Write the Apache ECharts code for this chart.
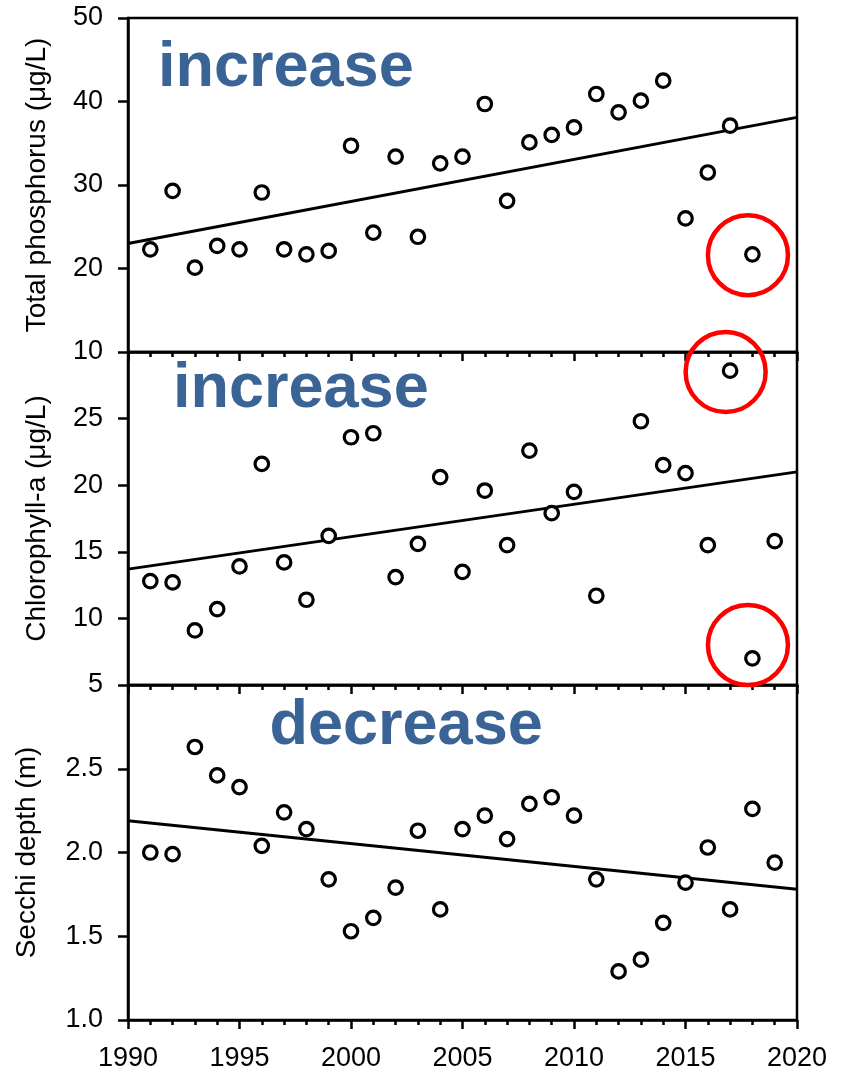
<!DOCTYPE html>
<html>
<head>
<meta charset="utf-8">
<script src="https://cdn.jsdelivr.net/npm/echarts@6/dist/echarts.min.js"></script>
<style>
html,body{margin:0;padding:0;background:#fff;}
#chart{width:842px;height:1073px;}
</style>
</head>
<body>
<div id="chart"></div>
<script>
// ---- data ----
const years = [1991,1992,1993,1994,1995,1996,1997,1998,1999,2000,2001,2002,2003,2004,2005,2006,2007,2008,2009,2010,2011,2012,2013,2014,2015,2016,2017,2018,2019];
const totalPhosphorus = [22.3,29.3,20.1,22.7,22.3,29.1,22.3,21.7,22.1,34.7,24.3,33.4,23.8,32.6,33.4,39.7,28.1,35.1,36.0,36.9,40.9,38.7,40.1,42.5,26.0,31.5,37.1,21.7,null];
const chlorophyll = [12.8,12.7,9.1,10.7,13.9,21.6,14.2,11.4,16.2,23.6,23.9,13.1,15.6,20.6,13.5,19.6,15.5,22.6,17.9,19.5,11.7,null,24.8,21.5,20.9,15.5,28.6,7.0,15.8];
const secchi = [2.00,1.99,2.63,2.46,2.39,2.04,2.24,2.14,1.84,1.53,1.61,1.79,2.13,1.66,2.14,2.22,2.08,2.29,2.33,2.22,1.84,1.29,1.36,1.58,1.82,2.03,1.66,2.26,1.94];
const trendYears = [1990, 2020];
const tpTrend = [23.0, 38.1];
const chlTrend = [13.7, 21.0];
const sdTrend = [2.19, 1.78];
const tpHighlightX = [2017.8];
const tpHighlightY = [21.6];
const chlHighlightX = [2016.8, 2017.8];
const chlHighlightY = [28.5, 8.0];
const panelNames = ['Total phosphorus (μg/L)', 'Chlorophyll-a (μg/L)', 'Secchi depth (m)'];
const trendWords = ['increase', 'increase', 'decrease'];
const xTicks = {min: 1990, max: 2020, interval: 5};

// ---- helpers ----
const FONT = '"Liberation Sans", Arial, sans-serif';
const pairs = (xs, ys) => xs.map((x, i) => [x, ys[i]]).filter(p => p[1] !== null);

const grids = [
  {left: 128, right: 45, top: 18, height: 334},
  {left: 128, right: 45, top: 352, height: 333},
  {left: 128, right: 45, top: 685, height: 335}
].map(g => Object.assign(g, {show: true, borderColor: '#000', borderWidth: 2.5, backgroundColor: 'transparent'}));

function xAxis(idx, showLabels) {
  return {
    type: 'value', gridIndex: idx, min: xTicks.min, max: xTicks.max, interval: xTicks.interval,
    axisLine: {show: true, onZero: false, lineStyle: {color: '#000', width: 2.5}},
    axisTick: {show: true, inside: false, length: 9, lineStyle: {color: '#000', width: 2.5}},
    minorTick: {show: true, splitNumber: 5, length: 5, lineStyle: {color: '#000', width: 2.5}},
    splitLine: {show: false}, minorSplitLine: {show: false},
    axisLabel: {show: showLabels, color: '#000', fontSize: 27, fontFamily: FONT, margin: 25,
      formatter: v => String(v)}
  };
}
function yAxis(idx, min, max, interval, showMax, gap, fmt) {
  return {
    type: 'value', gridIndex: idx, min: min, max: max, interval: interval,
    name: panelNames[idx], nameLocation: 'middle', nameGap: gap, nameRotate: 90,
    nameTextStyle: {color: '#000', fontSize: 28, fontFamily: FONT},
    axisLine: {show: true, onZero: false, lineStyle: {color: '#000', width: 2.5}},
    axisTick: {show: true, inside: false, length: 10, lineStyle: {color: '#000', width: 2.5}},
    splitLine: {show: false},
    axisLabel: {show: true, color: '#000', fontSize: 27, fontFamily: FONT, margin: 25,
      showMaxLabel: showMax, showMinLabel: true, formatter: fmt || (v => String(v))}
  };
}
function points(idx, data) {
  return {type: 'scatter', xAxisIndex: idx, yAxisIndex: idx, data: data, symbol: 'circle', symbolSize: 13.5,
    itemStyle: {color: '#fff', borderColor: '#000', borderWidth: 3.2, opacity: 1}, z: 5, silent: true};
}
function trend(idx, ys) {
  return {type: 'line', xAxisIndex: idx, yAxisIndex: idx, data: pairs(trendYears, ys), showSymbol: false,
    symbol: 'none', lineStyle: {color: '#000', width: 3}, z: 3, silent: true};
}
function highlight(idx, xs, ys) {
  return {type: 'scatter', xAxisIndex: idx, yAxisIndex: idx, data: pairs(xs, ys), symbol: 'circle', symbolSize: 80,
    clip: false, itemStyle: {color: 'transparent', borderColor: '#ff0000', borderWidth: 4.5, opacity: 1}, z: 10, silent: true};
}

const wordPos = [[158, 69], [173, 390], [269.5, 727]];
const graphic = trendWords.map((w, i) => ({
  type: 'text', x: wordPos[i][0], y: wordPos[i][1], z: 20,
  style: {text: w, font: 'bold 63px ' + FONT, fill: '#3b6496', textAlign: 'left', textVerticalAlign: 'middle'}
}));

const option = {
  animation: false,
  backgroundColor: '#fff',
  grid: grids,
  xAxis: [xAxis(0, false), xAxis(1, false), xAxis(2, true)],
  yAxis: [
    yAxis(0, 10, 50, 10, true, 77),
    yAxis(1, 5, 30, 5, false, 77),
    yAxis(2, 1, 3, 0.5, false, 87, v => v.toFixed(1))
  ],
  graphic: graphic,
  series: [
    trend(0, tpTrend), points(0, pairs(years, totalPhosphorus)), highlight(0, tpHighlightX, tpHighlightY),
    trend(1, chlTrend), points(1, pairs(years, chlorophyll)), highlight(1, chlHighlightX, chlHighlightY),
    trend(2, sdTrend), points(2, pairs(years, secchi))
  ]
};
const chart = echarts.init(document.getElementById('chart'), null, {renderer: 'canvas'});
chart.setOption(option);
</script>
</body>
</html>
